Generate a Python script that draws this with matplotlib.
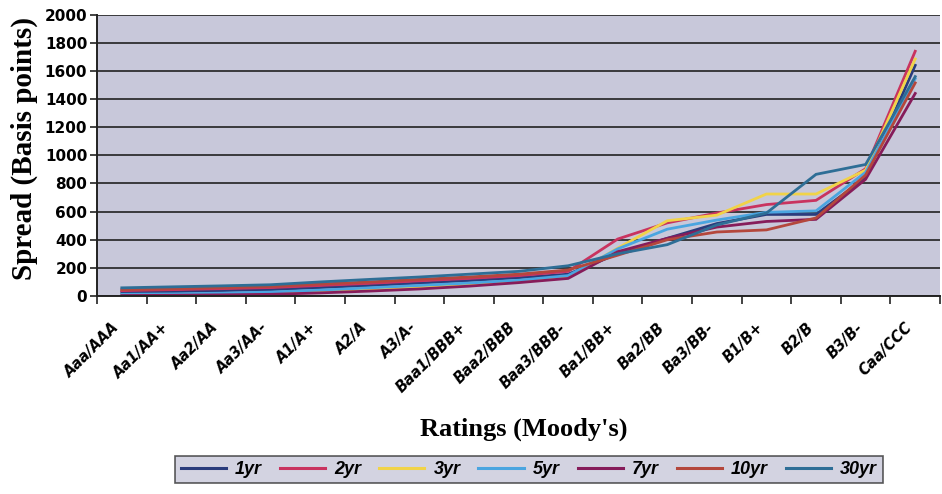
import matplotlib
matplotlib.use("Agg")
import matplotlib.pyplot as plt
import matplotlib.transforms as mtransforms
import numpy as np

categories = ["Aaa/AAA", "Aa1/AA+", "Aa2/AA", "Aa3/AA-", "A1/A+", "A2/A", "A3/A-",
              "Baa1/BBB+", "Baa2/BBB", "Baa3/BBB-", "Ba1/BB+", "Ba2/BB", "Ba3/BB-",
              "B1/B+", "B2/B", "B3/B-", "Caa/CCC"]

s_1yr = [25, 30, 38, 45, 60, 75, 92, 110, 130, 155, 300, 410, 515, 580, 580, 840, 1640]
s_2yr = [38, 45, 52, 60, 75, 90, 108, 125, 145, 175, 405, 520, 590, 650, 680, 905, 1740]
s_3yr = [5, 8, 12, 18, 30, 45, 62, 80, 100, 135, 340, 535, 575, 725, 725, 895, 1685]
s_5yr = [12, 15, 20, 28, 42, 58, 75, 92, 112, 145, 335, 475, 540, 595, 605, 880, 1545]
s_7yr = [3, 5, 8, 12, 22, 35, 50, 70, 95, 125, 315, 410, 490, 530, 545, 830, 1440]
s_10yr = [45, 52, 60, 68, 85, 100, 118, 135, 155, 185, 290, 400, 455, 470, 555, 860, 1515]
s_30yr = [58, 65, 72, 80, 100, 118, 135, 155, 175, 215, 300, 365, 505, 590, 865, 935, 1560]

series_names = ["1yr", "2yr", "3yr", "5yr", "7yr", "10yr", "30yr"]
series_vals = [s_1yr, s_2yr, s_3yr, s_5yr, s_7yr, s_10yr, s_30yr]
colors = ["#2a3c7c", "#c9335f", "#f1d348", "#4aa5e0", "#861c5a", "#b4473c", "#2e6e96"]

bg = "#c8c8da"

fig = plt.figure(figsize=(9.42, 4.94), dpi=100)
ax = fig.add_axes([97/942, 1-296/494, (940-97)/942, (296-14.7)/494])
ax.set_facecolor(bg)

x = np.arange(len(categories))
for name, vals, c in zip(series_names, series_vals, colors):
    ax.plot(x, vals, color=c, lw=2.0, label=name, solid_joinstyle="miter")

ax.set_ylim(0, 2000)
ax.set_xlim(-0.5, 16.36)
ax.set_yticks(np.arange(0, 2001, 200))
ax.yaxis.grid(True, color="#222222", lw=1.2)
ax.set_axisbelow(True)
for lab in ax.get_yticklabels():
    lab.set_fontfamily("DejaVu Sans")
    lab.set_fontweight("bold")
    lab.set_fontsize(11)
ax.tick_params(axis="y", length=5, width=1.2, color="#222222", pad=2)

ax.set_xticks(x)
ax.set_xticklabels(categories, rotation=45, ha="right", va="center", rotation_mode="anchor",
                   fontfamily="DejaVu Sans", fontweight="bold", fontstyle="italic",
                   fontsize=10.5)
ax.tick_params(axis="x", which="major", length=0, pad=21)
offset = mtransforms.ScaledTranslation(-5/100, 0, fig.dpi_scale_trans)
for lab in ax.get_xticklabels():
    lab.set_transform(lab.get_transform() + offset)
ax.set_xticks(np.arange(-0.5, 17, 1.0), minor=True)
ax.tick_params(axis="x", which="minor", length=6, width=1.2, color="#222222")

for side in ["top", "right"]:
    ax.spines[side].set_visible(False)
ax.spines["left"].set_color("#222222")
ax.spines["left"].set_linewidth(1.4)
ax.spines["bottom"].set_color("#222222")
ax.spines["bottom"].set_linewidth(1.4)

fig.text(24/942, 1-148/494, "Spread (Basis points)", rotation=90, ha="center", va="center",
         fontfamily="Liberation Serif", fontweight="bold", fontsize=21)
fig.text(524/942, 1-429/494, "Ratings (Moody's)", ha="center", va="center",
         fontfamily="Liberation Serif", fontweight="bold", fontsize=19)

leg = fig.legend(loc="center", bbox_to_anchor=(529/942, 1-469.5/494), ncol=7,
                 frameon=True, fancybox=False, facecolor=bg, edgecolor="#333333",
                 prop={"family": "Liberation Sans", "weight": "bold", "style": "italic", "size": 13},
                 handlelength=2.5, handletextpad=0.5, columnspacing=1.0,
                 borderpad=0.3)
leg.get_frame().set_linewidth(1.2)
for line in leg.get_lines():
    line.set_linewidth(2.2)

fig.savefig("out.png", dpi=100)
